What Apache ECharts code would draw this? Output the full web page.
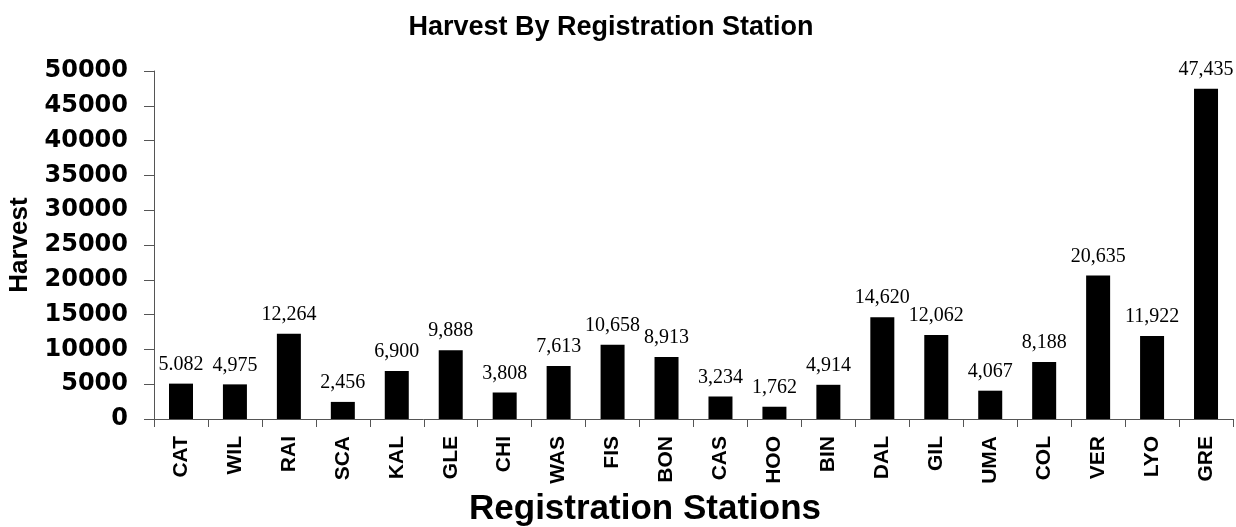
<!DOCTYPE html>
<html>
<head>
<meta charset="utf-8">
<title>Harvest By Registration Station</title>
<script src="https://cdn.jsdelivr.net/npm/echarts@6/dist/echarts.min.js"></script>
<style>
  html, body { margin: 0; padding: 0; background: #ffffff; }
  #chart { width: 1236px; height: 527px; }
</style>
</head>
<body>
<div id="chart"></div>
<script>
// Registration stations along the category axis
const stations = ['CAT', 'WIL', 'RAI', 'SCA', 'KAL', 'GLE', 'CHI', 'WAS', 'FIS', 'BON',
                  'CAS', 'HOO', 'BIN', 'DAL', 'GIL', 'UMA', 'COL', 'VER', 'LYO', 'GRE'];

// Harvest count per station
const harvest = [5082, 4975, 12264, 2456, 6900, 9888, 3808, 7613, 10658, 8913,
                 3234, 1762, 4914, 14620, 12062, 4067, 8188, 20635, 11922, 47435];

// Value labels printed above each bar
const harvestLabels = ['5.082', '4,975', '12,264', '2,456', '6,900', '9,888', '3,808', '7,613', '10,658', '8,913',
                       '3,234', '1,762', '4,914', '14,620', '12,062', '4,067', '8,188', '20,635', '11,922', '47,435'];

// Value axis range and step
const yMin = 0;
const yMax = 50000;
const yStep = 5000;

const SANS = '"Liberation Sans", Arial, sans-serif';
const WIDE_SANS = '"DejaVu Sans", "Liberation Sans", sans-serif';
const SERIF = '"Liberation Serif", "Times New Roman", serif';
const AXIS_GREY = '#555555';

const chart = echarts.init(document.getElementById('chart'), null, { renderer: 'canvas' });

chart.setOption({
  animation: false,
  backgroundColor: '#ffffff',
  title: [
    {
      text: 'Harvest By Registration Station',
      left: 606,
      top: 9,
      textAlign: 'center',
      textStyle: { fontFamily: SANS, fontWeight: 'bold', fontSize: 27, color: '#000' }
    },
    {
      text: 'Registration Stations',
      left: 640,
      top: 487,
      textAlign: 'center',
      textStyle: { fontFamily: SANS, fontWeight: 'bold', fontSize: 35, color: '#000' }
    }
  ],
  grid: {
    left: 154, right: 3, top: 71, bottom: 108,
    containLabel: false,
    outerBoundsMode: 'none'
  },
  xAxis: {
    type: 'category',
    data: stations,
    boundaryGap: true,
    axisLine: { lineStyle: { color: AXIS_GREY, width: 1 } },
    axisTick: { show: true, alignWithLabel: false, length: 8, lineStyle: { color: AXIS_GREY } },
    axisLabel: {
      rotate: 90,
      margin: 17,
      interval: 0,
      fontFamily: SANS,
      fontWeight: 'bold',
      fontSize: 21,
      color: '#000'
    },
    splitLine: { show: false }
  },
  yAxis: {
    type: 'value',
    min: yMin,
    max: yMax,
    interval: yStep,
    name: 'Harvest',
    nameLocation: 'middle',
    nameGap: 121,
    nameRotate: 90,
    nameTextStyle: { fontFamily: SANS, fontWeight: 'bold', fontSize: 26, color: '#000' },
    axisLine: { show: true, lineStyle: { color: AXIS_GREY, width: 1 } },
    axisTick: { show: true, inside: false, length: 10, lineStyle: { color: AXIS_GREY } },
    axisLabel: {
      margin: 26,
      fontFamily: WIDE_SANS,
      fontWeight: 'bold',
      fontSize: 24,
      color: '#000',
      formatter: (v) => String(v)
    },
    splitLine: { show: false }
  },
  series: [
    {
      type: 'bar',
      data: harvest,
      barWidth: 24,
      itemStyle: { color: '#000000' },
      label: {
        show: true,
        position: 'top',
        distance: 9,
        fontFamily: SERIF,
        fontSize: 20,
        color: '#000',
        formatter: (p) => harvestLabels[p.dataIndex]
      }
    }
  ]
});
</script>
</body>
</html>
